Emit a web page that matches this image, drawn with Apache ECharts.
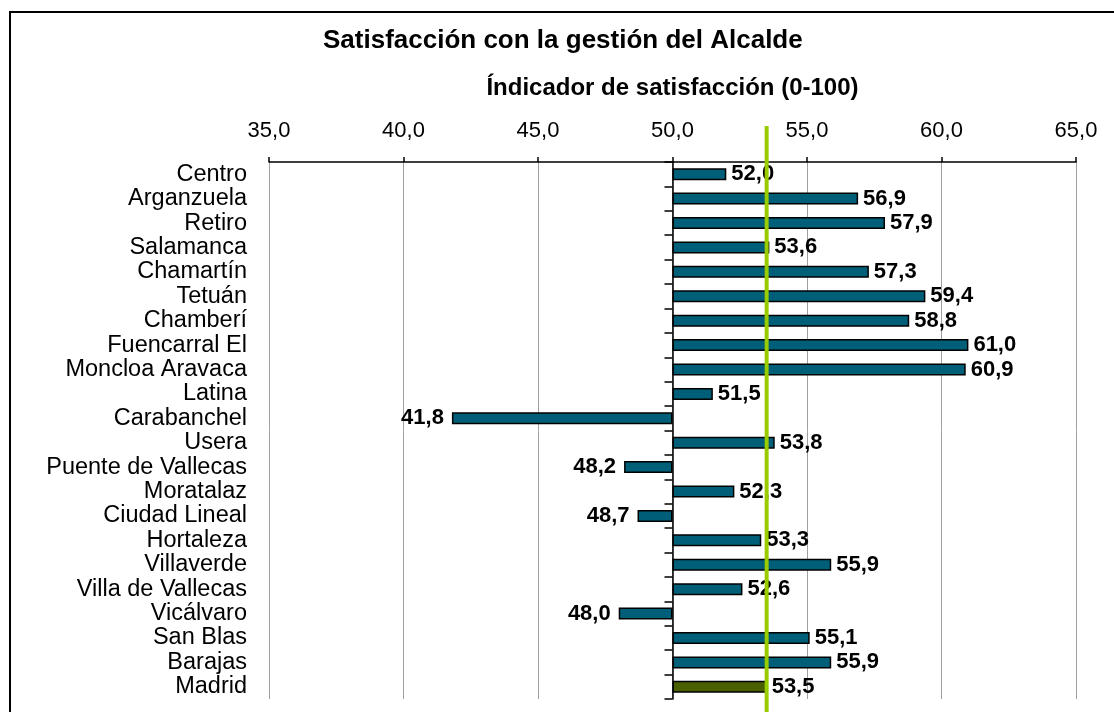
<!DOCTYPE html>
<html>
<head>
<meta charset="utf-8">
<script src="https://cdn.jsdelivr.net/npm/echarts@6/dist/echarts.min.js"></script>
<style>
html,body{margin:0;padding:0;background:#fff;}
#chart{width:1114px;height:712px;}
</style>
</head>
<body>
<div id="chart"></div>
<script>
const categories = ['Centro','Arganzuela','Retiro','Salamanca','Chamartín','Tetuán','Chamberí','Fuencarral El','Moncloa Aravaca','Latina','Carabanchel','Usera','Puente de Vallecas','Moratalaz','Ciudad Lineal','Hortaleza','Villaverde','Villa de Vallecas','Vicálvaro','San Blas','Barajas','Madrid'];
const values = [52.0,56.9,57.9,53.6,57.3,59.4,58.8,61.0,60.9,51.5,41.8,53.8,48.2,52.3,48.7,53.3,55.9,52.6,48.0,55.1,55.9,53.5];
const baseline = 50;
const referenceValue = 53.5;
const xMin = 35, xMax = 65, xInterval = 5;
const titleText = 'Satisfacción con la gestión del Alcalde';
const axisTitle = 'Índicador de satisfacción (0-100)';

const FONT = '"Liberation Sans", Arial, sans-serif';
const fmt = v => v.toFixed(1).replace('.', ',');
const lastIdx = values.length - 1;

const chart = echarts.init(document.getElementById('chart'), null, {renderer: 'canvas'});

const option = {
  animation: false,
  backgroundColor: '#ffffff',
  title: {
    text: titleText,
    left: 318,
    top: 23,
    textStyle: {fontFamily: FONT, fontSize: 26, fontWeight: 'bold', color: '#000'}
  },
  grid: {left: 269, right: 38, top: 162, bottom: 13, containLabel: false},
  xAxis: {
    type: 'value',
    position: 'top',
    min: xMin, max: xMax, interval: xInterval,
    name: axisTitle,
    nameLocation: 'middle',
    nameGap: 62,
    nameTextStyle: {fontFamily: FONT, fontSize: 24, fontWeight: 'bold', color: '#000'},
    axisLine: {show: true, lineStyle: {color: '#000', width: 1.5}},
    axisTick: {show: true, length: 5, lineStyle: {color: '#000', width: 1.5}},
    axisLabel: {fontFamily: FONT, fontSize: 22, color: '#000', margin: 20, formatter: v => fmt(v)},
    splitLine: {show: true, lineStyle: {color: '#a0a0a0', width: 1}}
  },
  yAxis: [{
    type: 'category',
    data: categories,
    inverse: true,
    axisLine: {show: false},
    axisTick: {show: false},
    axisLabel: {interval: 0, fontFamily: FONT, fontSize: 23.5, color: '#000', margin: 22}
  }, {
    type: 'category',
    data: categories,
    inverse: true,
    position: 'left',
    offset: 0,
    axisLine: {show: true, lineStyle: {color: '#000', width: 1.5}},
    axisTick: {show: true, interval: 0, length: 8, lineStyle: {color: '#000', width: 1.5}},
    axisLabel: {show: false}
  }],
  series: [{
    name: 'base',
    type: 'bar',
    stack: 's',
    silent: true,
    barWidth: 12,
    itemStyle: {color: 'rgba(0,0,0,0)'},
    data: values.map(v => Math.min(v, baseline))
  }, {
    name: 'valor',
    type: 'bar',
    stack: 's',
    barWidth: 12,
    data: values.map((v, i) => ({
      value: Math.abs(v - baseline),
      itemStyle: {color: i === lastIdx ? '#4a6000' : '#005f78', borderColor: '#000', borderWidth: 1.5},
      label: v < baseline ? {position: 'left', distance: 8} : {position: 'right', distance: 5}
    })),
    label: {
      show: true,
      fontFamily: FONT,
      fontSize: 22,
      fontWeight: 'bold',
      color: '#000',
      formatter: p => fmt(values[p.dataIndex])
    }
  }]
};

chart.setOption(option);

const gridLeft = option.grid.left;
const basePx = chart.convertToPixel({xAxisIndex: 0}, baseline);
const refPx = chart.convertToPixel({xAxisIndex: 0}, referenceValue);

chart.setOption({
  yAxis: [{}, {offset: -(basePx - gridLeft)}],
  graphic: [{
    type: 'rect',
    shape: {x: 10, y: 12, width: 1200, height: 800},
    style: {fill: 'none', stroke: '#000', lineWidth: 2},
    z: 100
  }, {
    type: 'line',
    shape: {x1: refPx, y1: 126, x2: refPx, y2: 712},
    style: {stroke: '#99cc00', lineWidth: 4},
    z: 100
  }]
});
</script>
</body>
</html>
